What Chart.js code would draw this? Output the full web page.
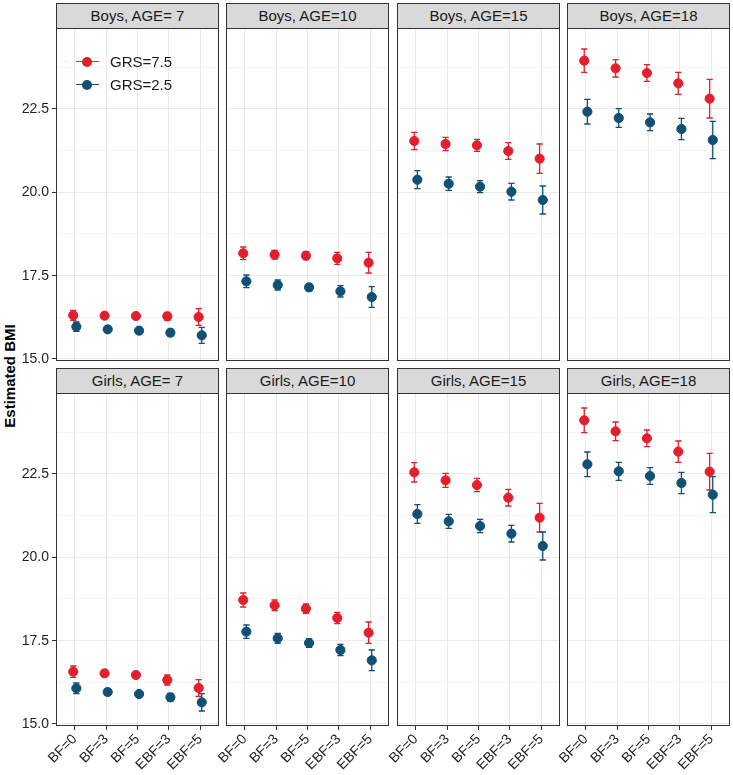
<!DOCTYPE html>
<html>
<head>
<meta charset="utf-8">
<script src="https://cdn.jsdelivr.net/npm/chart.js@4.4.0/dist/chart.umd.min.js"></script>
<style>
  body { margin: 0; background: #fff; font-family: "Liberation Sans", Arial, sans-serif; }
  #wrap { position: relative; width: 733px; height: 775px; overflow: hidden; }
  .box { position: absolute; }
  .strip { position: absolute; box-sizing: border-box; border: 1px solid #333; background: #D9D9D9;
           color: #1A1A1A; font-size: 15px; font-weight: normal; text-align: center; line-height: 24px; }
  #ytitle { position: absolute; left: 9px; top: 376px; transform: translate(-50%, -50%) rotate(-90deg);
            font-weight: bold; font-size: 15px; color: #000; white-space: nowrap; }
  .leg { position: absolute; left: 76px; height: 18px; font-size: 15px; color: #1A1A1A; }
  .leg .ln { position: absolute; left: 0; top: 8px; width: 23px; height: 1.4px; }
  .leg .dot { position: absolute; left: 6px; top: 4px; width: 10px; height: 10px; border-radius: 50%; }
  .leg .tx { position: absolute; left: 34px; top: 0; line-height: 18px; white-space: nowrap; }
</style>
</head>
<body>
<div id="wrap">
  <div id="ytitle">Estimated BMI</div>
</div>
<script>
// categories and panels
var categories = ['BF=0', 'BF=3', 'BF=5', 'EBF=3', 'EBF=5'];
var panelTitles = ['Boys, AGE= 7', 'Boys, AGE=10', 'Boys, AGE=15', 'Boys, AGE=18',
                   'Girls, AGE= 7', 'Girls, AGE=10', 'Girls, AGE=15', 'Girls, AGE=18'];
var majorTicks = [15, 17.5, 20, 22.5];
var minorTicks = [16.25, 18.75, 21.25, 23.75];

// estimated BMI (GRS=7.5 / GRS=2.5) and half width of the error bars
var boys7Hi = [16.31, 16.30, 16.29, 16.28, 16.26];
var boys7HiErr = [0.15, 0.08, 0.08, 0.12, 0.25];
var boys7Lo = [15.97, 15.89, 15.85, 15.79, 15.71];
var boys7LoErr = [0.14, 0.07, 0.06, 0.10, 0.24];

var boys10Hi = [18.17, 18.13, 18.10, 18.02, 17.89];
var boys10HiErr = [0.19, 0.13, 0.12, 0.18, 0.31];
var boys10Lo = [17.33, 17.22, 17.15, 17.03, 16.86];
var boys10LoErr = [0.19, 0.15, 0.11, 0.17, 0.31];

var boys15Hi = [21.54, 21.45, 21.41, 21.24, 21.01];
var boys15HiErr = [0.26, 0.20, 0.18, 0.25, 0.44];
var boys15Lo = [20.38, 20.26, 20.17, 20.02, 19.77];
var boys15LoErr = [0.27, 0.20, 0.18, 0.25, 0.42];

var boys18Hi = [23.95, 23.72, 23.58, 23.27, 22.81];
var boys18HiErr = [0.35, 0.26, 0.25, 0.33, 0.58];
var boys18Lo = [22.42, 22.23, 22.10, 21.90, 21.57];
var boys18LoErr = [0.37, 0.28, 0.25, 0.32, 0.56];

var girls7Hi = [16.57, 16.52, 16.47, 16.32, 16.08];
var girls7HiErr = [0.17, 0.10, 0.08, 0.15, 0.25];
var girls7Lo = [16.07, 15.96, 15.90, 15.80, 15.65];
var girls7LoErr = [0.16, 0.10, 0.08, 0.12, 0.26];

var girls10Hi = [18.72, 18.56, 18.46, 18.18, 17.74];
var girls10HiErr = [0.21, 0.16, 0.14, 0.17, 0.32];
var girls10Lo = [17.77, 17.57, 17.43, 17.22, 16.91];
var girls10LoErr = [0.20, 0.15, 0.13, 0.17, 0.31];

var girls15Hi = [22.55, 22.31, 22.17, 21.79, 21.19];
var girls15HiErr = [0.29, 0.21, 0.20, 0.25, 0.43];
var girls15Lo = [21.30, 21.08, 20.94, 20.71, 20.34];
var girls15LoErr = [0.28, 0.21, 0.20, 0.25, 0.42];

var girls18Hi = [24.11, 23.78, 23.57, 23.17, 22.57];
var girls18HiErr = [0.37, 0.28, 0.25, 0.32, 0.55];
var girls18Lo = [22.79, 22.58, 22.44, 22.23, 21.88];
var girls18LoErr = [0.37, 0.27, 0.25, 0.32, 0.54];

var panels = [
    [boys7Hi, boys7HiErr, boys7Lo, boys7LoErr],
    [boys10Hi, boys10HiErr, boys10Lo, boys10LoErr],
    [boys15Hi, boys15HiErr, boys15Lo, boys15LoErr],
    [boys18Hi, boys18HiErr, boys18Lo, boys18LoErr],
    [girls7Hi, girls7HiErr, girls7Lo, girls7LoErr],
    [girls10Hi, girls10HiErr, girls10Lo, girls10LoErr],
    [girls15Hi, girls15HiErr, girls15Lo, girls15LoErr],
    [girls18Hi, girls18HiErr, girls18Lo, girls18LoErr]
];

var red = '#E41F2D';
var blue = '#0F5074';
var dodge = 0.05;
var tickFont = { size: 14, family: '"Liberation Sans", Arial, sans-serif' };

// layout
var panelLeft = [56, 226, 397, 567];
var panelTop = [28, 393];
var panelW = 163, panelH = 333;
var margin = 14;

var errorBars = {
    id: 'errorBars',
    beforeDatasetsDraw: function (chart) {
        var ctx = chart.ctx, xs = chart.scales.x, ys = chart.scales.y;
        chart.data.datasets.forEach(function (ds) {
            ctx.save();
            ctx.strokeStyle = ds.borderColor;
            ctx.lineWidth = 1.3;
            ds.data.forEach(function (p) {
                var x = xs.getPixelForValue(p.x);
                var x0 = xs.getPixelForValue(p.x - 0.1);
                var x1 = xs.getPixelForValue(p.x + 0.1);
                var yT = ys.getPixelForValue(p.y + p.err);
                var yB = ys.getPixelForValue(p.y - p.err);
                ctx.beginPath();
                ctx.moveTo(x, yT); ctx.lineTo(x, yB);
                ctx.moveTo(x0, yT); ctx.lineTo(x1, yT);
                ctx.moveTo(x0, yB); ctx.lineTo(x1, yB);
                ctx.stroke();
            });
            ctx.restore();
        });
    }
};

var panelBorder = {
    id: 'panelBorder',
    afterDraw: function (chart) {
        var a = chart.chartArea, ctx = chart.ctx;
        ctx.save();
        ctx.strokeStyle = '#333333';
        ctx.lineWidth = 1;
        ctx.strokeRect(a.left + 0.5, a.top + 0.5, a.right - a.left - 1, a.bottom - a.top - 1);
        ctx.restore();
    }
};

var wrap = document.getElementById('wrap');

function points(means, errs, shift) {
    return means.map(function (v, i) {
        return { x: i + shift, y: v, err: errs[i] };
    });
}

function makePanel(idx) {
    var col = idx % 4, row = Math.floor(idx / 4);
    var yw = col === 0 ? 56 : 0;
    var xh = row === 1 ? 50 : 0;
    var d = panels[idx];

    var strip = document.createElement('div');
    strip.className = 'strip';
    strip.style.left = panelLeft[col] + 'px';
    strip.style.top = (panelTop[row] - 25) + 'px';
    strip.style.width = panelW + 'px';
    strip.style.height = '26px';
    strip.textContent = panelTitles[idx];
    wrap.appendChild(strip);

    var box = document.createElement('div');
    box.className = 'box';
    box.style.left = (panelLeft[col] - yw - margin) + 'px';
    box.style.top = (panelTop[row] - margin) + 'px';
    var cv = document.createElement('canvas');
    cv.width = panelW + yw + 2 * margin;
    cv.height = panelH + xh + 2 * margin;
    box.appendChild(cv);
    wrap.appendChild(box);

    new Chart(cv.getContext('2d'), {
        type: 'scatter',
        data: {
            datasets: [{
                label: 'GRS=7.5',
                data: points(d[0], d[1], -dodge),
                backgroundColor: red,
                borderColor: red,
                pointRadius: 4.6,
                pointBorderWidth: 1
            }, {
                label: 'GRS=2.5',
                data: points(d[2], d[3], dodge),
                backgroundColor: blue,
                borderColor: blue,
                pointRadius: 4.6,
                pointBorderWidth: 1
            }]
        },
        options: {
            responsive: false,
            animation: false,
            events: [],
            devicePixelRatio: 1,
            layout: { padding: margin },
            plugins: { legend: { display: false }, tooltip: { enabled: false } },
            scales: {
                x: {
                    type: 'linear',
                    min: -0.6,
                    max: 4.6,
                    afterBuildTicks: function (s) {
                        s.ticks = categories.map(function (c, i) { return { value: i }; });
                    },
                    afterFit: function (s) { s.height = xh; },
                    border: { display: false },
                    grid: { color: '#EBEBEB', lineWidth: 1, drawTicks: row === 1, tickLength: 4, tickColor: '#333333' },
                    ticks: {
                        display: row === 1,
                        autoSkip: false,
                        minRotation: 45,
                        maxRotation: 45,
                        padding: 1,
                        color: '#1F1F1F',
                        font: tickFont,
                        callback: function (v) { return categories[v]; }
                    }
                },
                y: {
                    min: 14.94,
                    max: 24.93,
                    afterBuildTicks: function (s) {
                        s.ticks = majorTicks.concat(minorTicks).sort(function (a, b) { return a - b; })
                            .map(function (v) { return { value: v }; });
                    },
                    afterFit: function (s) { s.width = yw; },
                    border: { display: false },
                    grid: {
                        color: '#EBEBEB',
                        lineWidth: function (c) { return majorTicks.indexOf(c.tick.value) >= 0 ? 1 : 0.5; },
                        drawTicks: col === 0,
                        tickLength: 4,
                        tickColor: function (c) { return majorTicks.indexOf(c.tick.value) >= 0 ? '#333333' : 'rgba(0,0,0,0)'; }
                    },
                    ticks: {
                        display: col === 0,
                        padding: 3,
                        color: '#1F1F1F',
                        font: tickFont,
                        callback: function (v) { return majorTicks.indexOf(v) >= 0 ? v.toFixed(1) : ''; }
                    }
                }
            }
        },
        plugins: [errorBars, panelBorder]
    });
}

for (var i = 0; i < panels.length; i++) {
    makePanel(i);
}

// legend inside the first panel
[['GRS=7.5', red, 53], ['GRS=2.5', blue, 76]].forEach(function (l) {
    var row = document.createElement('div');
    row.className = 'leg';
    row.style.top = l[2] + 'px';
    row.innerHTML = '<div class="ln" style="background:' + l[1] + '"></div>' +
        '<div class="dot" style="background:' + l[1] + '"></div>' +
        '<div class="tx">' + l[0] + '</div>';
    wrap.appendChild(row);
});
</script>
</body>
</html>
